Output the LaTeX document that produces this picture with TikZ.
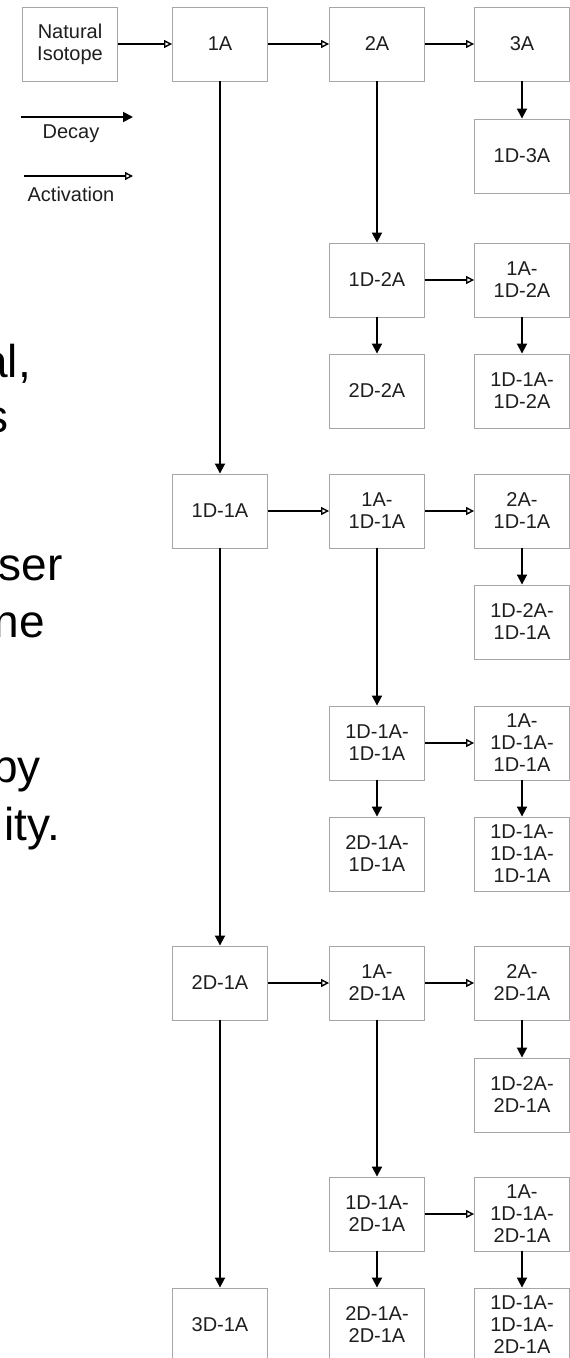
\documentclass[tikz,border=0pt]{standalone}
\usepackage{fontspec}
\setmainfont{Liberation Sans}
\usetikzlibrary{arrows.meta}
\definecolor{boxgray}{HTML}{A6A6A6}
\definecolor{txtgray}{HTML}{1E1E1E}
\tikzset{
  box/.style={draw=boxgray, line width=0.9pt, minimum width=95pt, minimum height=74pt,
    inner sep=0pt, align=center, font=\fontsize{20}{22}\selectfont, text=txtgray},
  decay/.style={line width=1.8pt, -{Triangle[length=10pt,width=10pt]}},
  activ/.style={line width=1.8pt, -{Triangle[open,length=8pt,width=8pt,line width=1.4pt]}},
  frag/.style={anchor=base east, inner sep=0pt, font=\fontsize{46}{55}\selectfont},
  legendtext/.style={inner sep=0pt, font=\fontsize{20}{22}\selectfont, text=txtgray}
}
\begin{document}
\begin{tikzpicture}[x=1pt,y=-1pt]
\useasboundingbox (0,0) rectangle (570,1358);
\clip (0,0) rectangle (570,1358);
\fill[white] (0,0) rectangle (570,1358);

% cut-off text at the left
\node[frag] (t1) at (31,377) {al,};
\node[frag] (t2) at (9,432) {s};
\node[frag] (t3) at (63,580) {ser};
\node[frag] (t4) at (45,637) {ne};
\node[frag] (t5) at (41,782) {by};
\node[frag] (t6) at (60,840) {ity.};

% legend
\coordinate (dl1) at (21,117);
\coordinate (dl2) at (133,117);
\coordinate (al1) at (24,176);
\coordinate (al2) at (133,176);
\draw[decay] (dl1) -- (dl2);
\draw[activ] (al1) -- (al2);
\node[legendtext] (ldecay) at (71,134) {Decay};
\node[legendtext] (lact) at (71,194) {Activation};

% boxes
\node[box] (nat) at (70,44) {Natural\\Isotope};
\node[box] (a1) at (220,44) {1A};
\node[box] (a2) at (377,44) {2A};
\node[box] (a3) at (522,44) {3A};
\node[box] (d3a) at (522,156) {1D-3A};
\node[box] (d2a) at (377,280) {1D-2A};
\node[box] (a1d2a) at (522,280) {1A-\\1D-2A};
\node[box] (dd2a) at (377,391) {2D-2A};
\node[box] (d1a1d2a) at (522,391) {1D-1A-\\1D-2A};
\node[box] (d1a) at (220,511) {1D-1A};
\node[box] (a1d1a) at (377,511) {1A-\\1D-1A};
\node[box] (a2d1a) at (522,511) {2A-\\1D-1A};
\node[box] (d2a1d1a) at (522,622) {1D-2A-\\1D-1A};
\node[box] (d1a1d1a) at (377,743) {1D-1A-\\1D-1A};
\node[box] (a1d1a1d1a) at (522,743) {1A-\\1D-1A-\\1D-1A};
\node[box] (dd1a1d1a) at (377,854) {2D-1A-\\1D-1A};
\node[box] (d1a1d1a1d1a) at (522,854) {1D-1A-\\1D-1A-\\1D-1A};
\node[box] (dd1a) at (220,983) {2D-1A};
\node[box] (a1dd1a) at (377,983) {1A-\\2D-1A};
\node[box] (a2dd1a) at (522,983) {2A-\\2D-1A};
\node[box] (d2add1a) at (522,1095) {1D-2A-\\2D-1A};
\node[box] (d1add1a) at (377,1214) {1D-1A-\\2D-1A};
\node[box] (a1d1add1a) at (522,1214) {1A-\\1D-1A-\\2D-1A};
\node[box] (ddd1a) at (220,1325) {3D-1A};
\node[box] (dd1add1a) at (377,1325) {2D-1A-\\2D-1A};
\node[box] (d1a1d1add1a) at (522,1325) {1D-1A-\\1D-1A-\\2D-1A};

% activation (horizontal)
\draw[activ] (nat) -- (a1);
\draw[activ] (a1) -- (a2);
\draw[activ] (a2) -- (a3);
\draw[activ] (d2a) -- (a1d2a);
\draw[activ] (d1a) -- (a1d1a);
\draw[activ] (a1d1a) -- (a2d1a);
\draw[activ] (d1a1d1a) -- (a1d1a1d1a);
\draw[activ] (dd1a) -- (a1dd1a);
\draw[activ] (a1dd1a) -- (a2dd1a);
\draw[activ] (d1add1a) -- (a1d1add1a);

% decay (vertical)
\draw[decay] (a1) -- (d1a);
\draw[decay] (d1a) -- (dd1a);
\draw[decay] (dd1a) -- (ddd1a);
\draw[decay] (a2) -- (d2a);
\draw[decay] (a3) -- (d3a);
\draw[decay] (d2a) -- (dd2a);
\draw[decay] (a1d2a) -- (d1a1d2a);
\draw[decay] (a1d1a) -- (d1a1d1a);
\draw[decay] (a2d1a) -- (d2a1d1a);
\draw[decay] (d1a1d1a) -- (dd1a1d1a);
\draw[decay] (a1d1a1d1a) -- (d1a1d1a1d1a);
\draw[decay] (a1dd1a) -- (d1add1a);
\draw[decay] (a2dd1a) -- (d2add1a);
\draw[decay] (d1add1a) -- (dd1add1a);
\draw[decay] (a1d1add1a) -- (d1a1d1add1a);
\end{tikzpicture}
\end{document}
